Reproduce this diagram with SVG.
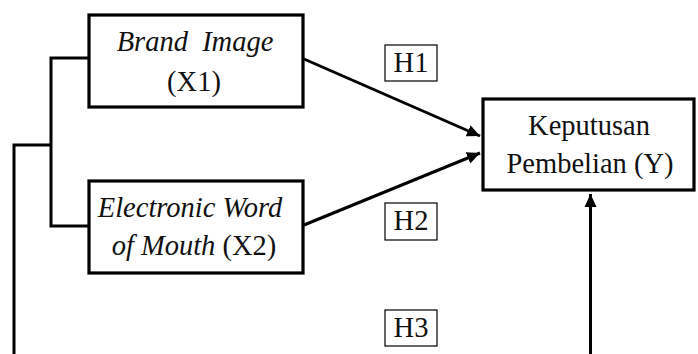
<svg xmlns="http://www.w3.org/2000/svg" width="698" height="354" viewBox="0 0 698 354">
<style>
.box{fill:#fff;stroke:#000;stroke-width:3.2}
.hbox{fill:#fff;stroke:#000;stroke-width:1.2}
.t{font-family:"Liberation Serif","Times New Roman",serif;font-size:28.5px;fill:#111;text-anchor:middle}
.i{font-style:italic}
.c{fill:none;stroke:#000;stroke-width:3}
</style>
<defs>
<marker id="ah" markerUnits="userSpaceOnUse" markerWidth="14" markerHeight="14" viewBox="0 0 14 14" refX="13" refY="7" orient="auto">
<path d="M0,1 L13,7 L0,13 Z" fill="#000"/>
</marker>
</defs>
<rect width="698" height="354" fill="#fff"/>
<g id="connectors">
<polyline class="c" points="88,58 51,58 51,226 88,226"/>
<polyline class="c" points="51,145 14,145 14,354"/>
<line class="c" x1="304" y1="59" x2="480" y2="136" marker-end="url(#ah)"/>
<line class="c" x1="304" y1="225" x2="480" y2="153" marker-end="url(#ah)"/>
<line class="c" x1="590.5" y1="354" x2="590.5" y2="194" marker-end="url(#ah)"/>
</g>
<g id="x1">
<rect class="box" x="89" y="15" width="214" height="92"/>
<text class="t i" x="195" y="51" xml:space="preserve">Brand  Image</text>
<text class="t" x="194" y="91">(X1)</text>
</g>
<g id="x2">
<rect class="box" x="89" y="181" width="214" height="92"/>
<text class="t i" x="190" y="217">Electronic Word</text>
<text class="t" x="194" y="255"><tspan class="i">of Mouth</tspan> (X2)</text>
</g>
<g id="y">
<rect class="box" x="483" y="99" width="211" height="91"/>
<text class="t" x="589" y="135">Keputusan</text>
<text class="t" x="590" y="173">Pembelian (Y)</text>
</g>
<g id="h1">
<rect class="hbox" x="385" y="45" width="52" height="36"/>
<text class="t" x="411" y="72">H1</text>
</g>
<g id="h2">
<rect class="hbox" x="385" y="203" width="52" height="37"/>
<text class="t" x="411" y="230">H2</text>
</g>
<g id="h3">
<rect class="hbox" x="385" y="310" width="52" height="36"/>
<text class="t" x="411" y="337">H3</text>
</g>
</svg>
